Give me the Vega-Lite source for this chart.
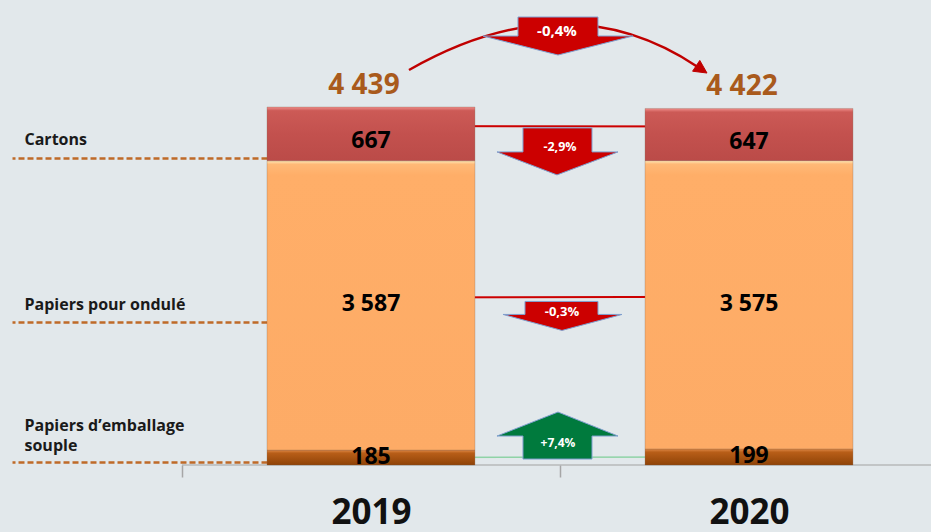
{
  "$schema": "https://vega.github.io/schema/vega-lite/v6.json",
  "width": 931,
  "height": 465,
  "autosize": {"type": "none"},
  "padding": {"left": 0, "top": 0, "right": 0, "bottom": 67},
  "background": "#e2e8eb",
  "config": {
    "view": {"stroke": null},
    "font": "Open Sans",
    "locale": {"number": {"decimal": ",", "thousands": " ", "grouping": [3], "currency": ["", " €"]}}
  },
  "datasets": {
    "segments": [
      {"annee": "2019", "categorie": "Papiers d’emballage souple", "valeur": 185, "ordre": 1, "variation": "+7,4%"},
      {"annee": "2019", "categorie": "Papiers pour ondulé", "valeur": 3587, "ordre": 2, "variation": "-0,3%"},
      {"annee": "2019", "categorie": "Cartons", "valeur": 667, "ordre": 3, "variation": "-2,9%"},
      {"annee": "2020", "categorie": "Papiers d’emballage souple", "valeur": 199, "ordre": 1, "variation": "+7,4%"},
      {"annee": "2020", "categorie": "Papiers pour ondulé", "valeur": 3575, "ordre": 2, "variation": "-0,3%"},
      {"annee": "2020", "categorie": "Cartons", "valeur": 647, "ordre": 3, "variation": "-2,9%"}
    ],
    "totaux": [
      {"annee": "2019", "total": 4439, "variation": "-0,4%"},
      {"annee": "2020", "total": 4422, "variation": "-0,4%"}
    ]
  },
  "layer": [
    {
      "data": {"name": "segments"},
      "transform": [
        {"stack": "valeur", "groupby": ["annee"], "sort": [{"field": "ordre", "order": "ascending"}], "as": ["v0", "v1"]},
        {"calculate": "(datum.v0 + datum.v1) / 2", "as": "mid"},
        {"filter": "datum.categorie !== 'Papiers d’emballage souple'"}
      ],
      "mark": {"type": "line", "color": "#cc0000", "strokeWidth": 2, "yOffset": -8},
      "encoding": {
        "x": {
          "field": "annee", "type": "nominal", "sort": ["2019", "2020"],
          "scale": {"range": [0, 938], "paddingInner": 0, "paddingOuter": 0.2407, "align": 1},
          "axis": {
            "title": null, "domain": false, "tickBand": "extent", "tickSize": 12,
            "tickColor": "#a6a6a6", "tickWidth": 1.5, "labelAngle": 0,
            "labelFont": "Open Sans", "labelFontSize": 35, "labelFontWeight": "bold",
            "labelColor": "#111111", "labelPadding": 46, "labelBaseline": "alphabetic"
          }
        },
        "y": {
          "field": "mid", "type": "quantitative",
          "scale": {"domain": [0, 5766], "nice": false},
          "axis": {
            "values": [3807, 1773, 37], "title": null, "domain": false, "grid": false,
            "orient": "left", "offset": -267, "tickSize": 255, "tickColor": "#bf6a28",
            "tickWidth": 2.5, "tickDash": [6, 3], "labelAlign": "left", "labelPadding": -12,
            "labelBaseline": "bottom",
            "labelOffset": {"condition": {"test": "datum.value < 1000", "value": -29}, "value": -10},
            "labelFont": "Open Sans",
            "labelFontSize": 16, "labelFontWeight": "bold", "labelColor": "#1a1a1a",
            "labelLineHeight": 20, "labelLimit": 0,
            "labelOverlap": false, "labelBound": false, "labelFlush": false,
            "labelExpr": "datum.value > 3000 ? 'Cartons' : datum.value > 1000 ? 'Papiers pour ondulé' : ['Papiers d’emballage', 'souple']"
          }
        },
        "detail": {"field": "categorie"}
      }
    },
    {
      "data": {"name": "segments"},
      "transform": [
        {"stack": "valeur", "groupby": ["annee"], "sort": [{"field": "ordre", "order": "ascending"}], "as": ["v0", "v1"]},
        {"calculate": "(datum.v0 + datum.v1) / 2", "as": "mid"},
        {"filter": "datum.categorie === 'Papiers d’emballage souple'"}
      ],
      "mark": {"type": "line", "color": "#8fd3a6", "strokeWidth": 1.5},
      "encoding": {
        "x": {"field": "annee", "type": "nominal"},
        "y": {"field": "mid", "type": "quantitative"},
        "detail": {"field": "categorie"}
      }
    },
    {
      "data": {"name": "totaux"},
      "mark": {"type": "tick", "orient": "horizontal", "size": 378, "thickness": 1.5, "color": "#a6a6a6"},
      "encoding": {
        "x": {"field": "annee", "type": "nominal"},
        "y": {"datum": 0, "type": "quantitative"}
      }
    },
    {
      "data": {"name": "segments"},
      "mark": {"type": "bar", "width": {"band": 0.55}, "stroke": "#7a5a45", "strokeWidth": 0.6, "strokeOpacity": 0.45},
      "encoding": {
        "x": {"field": "annee", "type": "nominal"},
        "y": {"field": "valeur", "type": "quantitative", "stack": "zero"},
        "order": {"field": "ordre", "type": "quantitative"},
        "detail": {"field": "categorie"},
        "fill": {
          "condition": [
            {"test": "datum.categorie === 'Cartons'", "value": {"gradient": "linear", "x1": 0, "y1": 0, "x2": 0, "y2": 1, "stops": [{"offset": 0, "color": "#f08e8b"}, {"offset": 0.07, "color": "#cc5a56"}, {"offset": 0.5, "color": "#c3514e"}, {"offset": 1, "color": "#bb4b48"}]}},
            {"test": "datum.categorie === 'Papiers pour ondulé'", "value": {"gradient": "linear", "x1": 0, "y1": 0, "x2": 0, "y2": 1, "stops": [{"offset": 0, "color": "#ffe9b8"}, {"offset": 0.012, "color": "#ffb977"}, {"offset": 0.05, "color": "#ffae68"}, {"offset": 1, "color": "#fdab66"}]}}
          ],
          "value": {"gradient": "linear", "x1": 0, "y1": 0, "x2": 0, "y2": 1, "stops": [{"offset": 0, "color": "#e08a48"}, {"offset": 0.2, "color": "#b85e18"}, {"offset": 1, "color": "#8f4307"}]}
        }
      }
    },
    {
      "data": {"name": "segments"},
      "transform": [
        {"stack": "valeur", "groupby": ["annee"], "sort": [{"field": "ordre", "order": "ascending"}], "as": ["v0", "v1"]},
        {"calculate": "(datum.v0 + datum.v1) / 2", "as": "mid"},
        {"filter": "datum.categorie !== 'Cartons'"}
      ],
      "mark": {"type": "text", "font": "Open Sans", "fontWeight": "bold", "fontSize": 23, "color": "#000000", "baseline": "middle", "dy": -1},
      "encoding": {
        "x": {"field": "annee", "type": "nominal"},
        "y": {"field": "mid", "type": "quantitative"},
        "text": {"field": "valeur", "type": "quantitative", "format": ",d"}
      }
    },
    {
      "data": {"name": "segments"},
      "transform": [
        {"stack": "valeur", "groupby": ["annee"], "sort": [{"field": "ordre", "order": "ascending"}], "as": ["v0", "v1"]},
        {"calculate": "(datum.v0 + datum.v1) / 2", "as": "mid"},
        {"filter": "datum.categorie === 'Cartons'"}
      ],
      "mark": {"type": "text", "font": "Open Sans", "fontWeight": "bold", "fontSize": 23, "color": "#000000", "baseline": "middle", "dy": 7},
      "encoding": {
        "x": {"field": "annee", "type": "nominal"},
        "y": {"field": "mid", "type": "quantitative"},
        "text": {"field": "valeur", "type": "quantitative", "format": ",d"}
      }
    },
    {
      "data": {"name": "totaux"},
      "mark": {"type": "text", "font": "Open Sans", "fontWeight": "bold", "fontSize": 28, "color": "#a95a1c", "baseline": "alphabetic", "dy": -13, "dx": -7},
      "encoding": {
        "x": {"field": "annee", "type": "nominal"},
        "y": {"field": "total", "type": "quantitative"},
        "text": {"field": "total", "type": "quantitative", "format": ",d"}
      }
    },
    {
      "data": {"name": "totaux"},
      "transform": [{"filter": "datum.annee === '2019'"}],
      "encoding": {
        "x": {"field": "annee", "type": "nominal", "bandPosition": 1},
        "y": {"field": "total", "type": "quantitative"}
      },
      "layer": [
        {"mark": {"type": "point", "shape": "M-151,-37Q7,-127.2,137,-40.6", "size": 4, "filled": false, "fill": null, "stroke": "#c00000", "strokeWidth": 2.5, "opacity": 1}},
        {"mark": {"type": "point", "shape": "M147,-34L132.6,-35.8L139.8,-46.6Z", "size": 4, "filled": true, "fill": "#c00000", "stroke": "#c00000", "strokeWidth": 1, "opacity": 1}},
        {"mark": {"type": "point", "shape": "M-42,-90L38,-90L38,-71L73,-71L-2,-52L-77,-71L-42,-71Z", "size": 4, "filled": true, "fill": "#cc0000", "stroke": "#7f9fcf", "strokeWidth": 1, "opacity": 1}},
        {"mark": {"type": "text", "font": "Open Sans", "fontWeight": "bold", "fontSize": 15, "color": "#ffffff", "baseline": "middle", "dx": -3, "dy": -76}, "encoding": {"text": {"field": "variation"}}}
      ]
    },
    {
      "data": {"name": "segments"},
      "transform": [
        {"stack": "valeur", "groupby": ["annee"], "sort": [{"field": "ordre", "order": "ascending"}], "as": ["v0", "v1"]},
        {"calculate": "(datum.v0 + datum.v1) / 2", "as": "mid"},
        {"filter": "datum.annee === '2019' && datum.categorie === 'Cartons'"}
      ],
      "encoding": {
        "x": {"field": "annee", "type": "nominal", "bandPosition": 1},
        "y": {"field": "mid", "type": "quantitative"}
      },
      "layer": [
        {"mark": {"type": "point", "shape": "M-37,-6L32,-6L32,18L58,18L-3,41L-63,18L-37,18Z", "size": 4, "filled": true, "fill": "#cc0000", "stroke": "#7f9fcf", "strokeWidth": 1, "opacity": 1}},
        {"mark": {"type": "text", "font": "Open Sans", "fontWeight": "bold", "fontSize": 12.5, "color": "#ffffff", "baseline": "middle", "dx": 0, "dy": 13}, "encoding": {"text": {"field": "variation"}}}
      ]
    },
    {
      "data": {"name": "segments"},
      "transform": [
        {"stack": "valeur", "groupby": ["annee"], "sort": [{"field": "ordre", "order": "ascending"}], "as": ["v0", "v1"]},
        {"calculate": "(datum.v0 + datum.v1) / 2", "as": "mid"},
        {"filter": "datum.annee === '2019' && datum.categorie === 'Papiers pour ondulé'"}
      ],
      "encoding": {
        "x": {"field": "annee", "type": "nominal", "bandPosition": 1},
        "y": {"field": "mid", "type": "quantitative"}
      },
      "layer": [
        {"mark": {"type": "point", "shape": "M-35,-4L38,-4L38,9L62,9L2,25L-57,9L-35,9Z", "size": 4, "filled": true, "fill": "#cc0000", "stroke": "#7f9fcf", "strokeWidth": 1, "opacity": 1}},
        {"mark": {"type": "text", "font": "Open Sans", "fontWeight": "bold", "fontSize": 13, "color": "#ffffff", "baseline": "middle", "dx": 2, "dy": 7}, "encoding": {"text": {"field": "variation"}}}
      ]
    },
    {
      "data": {"name": "segments"},
      "transform": [
        {"stack": "valeur", "groupby": ["annee"], "sort": [{"field": "ordre", "order": "ascending"}], "as": ["v0", "v1"]},
        {"calculate": "(datum.v0 + datum.v1) / 2", "as": "mid"},
        {"filter": "datum.annee === '2019' && datum.categorie === 'Papiers d’emballage souple'"}
      ],
      "encoding": {
        "x": {"field": "annee", "type": "nominal", "bandPosition": 1},
        "y": {"field": "mid", "type": "quantitative"}
      },
      "layer": [
        {"mark": {"type": "point", "shape": "M-37,1.5L32,1.5L32,-21.5L58,-21.5L-2,-45.5L-63,-21.5L-37,-21.5Z", "size": 4, "filled": true, "fill": "#007a3d", "stroke": "#7f9fcf", "strokeWidth": 1, "opacity": 1}},
        {"mark": {"type": "text", "font": "Open Sans", "fontWeight": "bold", "fontSize": 12, "color": "#ffffff", "baseline": "middle", "dx": -2, "dy": -14.5}, "encoding": {"text": {"field": "variation"}}}
      ]
    }
  ]
}
